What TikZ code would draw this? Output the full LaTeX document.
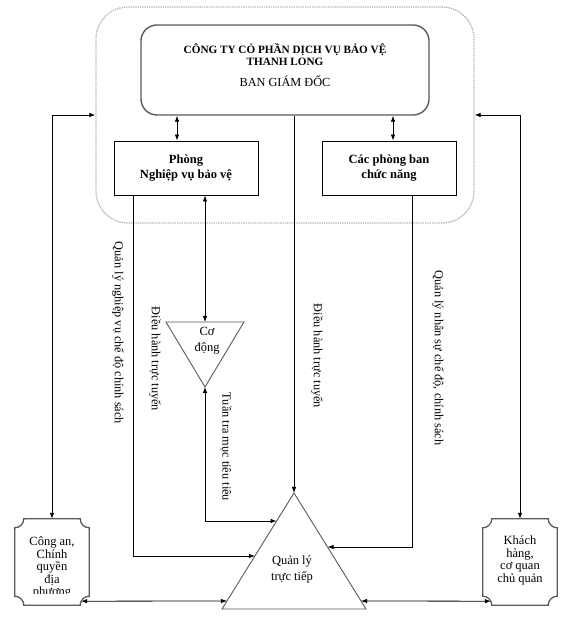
\documentclass[tikz,border=0pt]{standalone}
\usepackage{fontspec}
\setmainfont{Liberation Serif}
\usetikzlibrary{arrows.meta,calc}
\definecolor{bord}{HTML}{5A5A5A}
\definecolor{framec}{HTML}{B4B4B4}
\newcommand\plaqueof[1]{%
  \draw[plq] ($(#1.north west)+(9,0)$) -- ($(#1.north east)+(-9,0)$)
    arc[start angle=180,end angle=270,radius=9]
    -- ($(#1.south east)+(0,9)$) arc[start angle=90,end angle=180,radius=9]
    -- ($(#1.south west)+(9,0)$) arc[start angle=0,end angle=90,radius=9]
    -- ($(#1.north west)+(0,-9)$) arc[start angle=-90,end angle=0,radius=9]
    -- cycle;}
\newcommand\titlefont{\fontsize{11.2bp}{14bp}\selectfont\bfseries}
\begin{document}
\begin{tikzpicture}[x=1bp,y=1bp,
  >={Latex[length=6bp,width=4.5bp]},
  conn/.style={line width=0.8bp},
  grpframe/.style={draw=framec, densely dotted, line width=1.3bp, rounded corners=32bp, inner sep=0pt},
  mainbox/.style={draw=bord, line width=1.4bp, rounded corners=16bp, inner sep=0pt},
  rectbox/.style={draw=black, line width=0.9bp, inner sep=0pt, align=center, font=\fontsize{12.5bp}{15bp}\selectfont\bfseries},
  tri/.style={draw=bord, line width=0.9bp},
  plq/.style={draw=bord, line width=1.3bp},
  plqbox/.style={minimum width=74bp, minimum height=86bp, inner sep=0pt},
  plqtxt/.style={inner sep=0pt, align=center, anchor=north, font=\fontsize{12.5bp}{12.5bp}\selectfont},
  txt/.style={inner sep=0pt, align=center, font=\fontsize{12.5bp}{16bp}\selectfont},
  lbl/.style={inner sep=0pt, rotate=-90, font=\fontsize{12.3bp}{14bp}\selectfont},
]
\fill[white] (0,0) rectangle (563,620);
\useasboundingbox (0,0) rectangle (563,620);

% group frame and boxes
\node[grpframe, minimum width=378bp, minimum height=216bp] (grp) at (285,505) {};
\node[mainbox, minimum width=288bp, minimum height=90bp] (bgd) at (285,550) {};
\node[inner sep=0pt, align=center] (bgdt) at (285,555)
  {{\titlefont CÔNG TY CỎ PHẦN DỊCH VỤ BẢO VỆ}\\{\titlefont THANH LONG}\\[9bp]{\fontsize{12.3bp}{14bp}\selectfont BAN GIÁM ĐỐC}};
\node[rectbox, minimum width=144bp, minimum height=54bp] (pnv) at (186,452) {Phòng\\Nghiệp vụ bảo vệ};
\node[rectbox, minimum width=134bp, minimum height=54bp] (cpb) at (389,452) {Các phòng ban\\chức năng};

% Co dong triangle
\coordinate (cdtl) at (166,298);
\coordinate (cdtr) at (244,298);
\coordinate (cdap) at (205,233);
\draw[tri] (cdtl) -- (cdtr) -- (cdap) -- cycle;
\node[txt] (cdt) at (207,279) {Cơ\\động};

% Quan ly triangle
\coordinate (qlap) at (294,127);
\coordinate (qlbl) at (222,11);
\coordinate (qlbr) at (366,11);
\draw[tri] (qlap) -- (qlbl) -- (qlbr) -- cycle;
\node[txt] (qlt) at (292,51) {Quản lý\\trực tiếp};

% plaques
\node[plqbox] (ca) at (52,58) {};
\node[plqbox] (kh) at (520,58) {};
\plaqueof{ca}
\plaqueof{kh}
\begin{scope}
  \clip ($(ca.south west)+(0,12)$) rectangle (ca.north east);
  \node[plqtxt] (cat) at ($(ca.north)+(0,-18)$) {Công an,\\Chính\\quyền\\địa\\phương};
\end{scope}
\node[plqtxt] (kht) at ($(kh.north)+(0,-17)$) {Khách\\hàng,\\cơ quan\\chủ quản};

% rotated labels
\node[lbl] (l1) at (118,287) {Quản lý nghiệp vụ chế độ chính sách};
\node[lbl] (l2) at (155,261) {Điều hành trực tuyến};
\node[lbl] (l3) at (226,173) {Tuần tra mục tiêu tiêu};
\node[lbl] (l4) at (317,264) {Điều hành trực tuyến};
\node[lbl] (l5) at (438,262) {Quản lý nhân sự chế độ, chính sách};

% helper coordinates
\coordinate (h177) at (177,0);
\coordinate (h393) at (393,0);
\coordinate (h133) at (133,0);
\coordinate (h412) at (412,0);
\coordinate (qlL1) at ($(qlap)!0.2414!(qlbl)$);
\coordinate (qlL2) at ($(qlap)!0.5431!(qlbl)$);
\coordinate (qlR1) at ($(qlap)!0.4655!(qlbr)$);
\coordinate (qlL3) at ($(qlap)!0.931!(qlbl)$);
\coordinate (qlR3) at ($(qlap)!0.931!(qlbr)$);
\coordinate (caC) at ($(ca.south east)+(-8.06,4)$);
\coordinate (khC) at ($(kh.south west)+(8.06,4)$);

% connectors
\draw[conn,<->] (bgd.south -| h177) -- (pnv.north -| h177);
\draw[conn,<->] (bgd.south -| h393) -- (cpb.north -| h393);
\draw[conn,<->] (pnv.south -| cdap) -- (cdap |- cdtl);
\draw[conn,<->] (cdap) |- (qlL1);
\draw[conn,->] (pnv.south -| h133) |- (qlL2);
\draw[conn,->] (bgd.south -| qlap) -- (qlap);
\draw[conn,->] (cpb.south -| h412) |- (qlR1);
\draw[conn,<->] (grp.west) -| (ca.north);
\draw[conn,<->] (grp.east) -| (kh.north);
\draw[conn,<->] (caC) -- (qlL3);
\draw[conn,<->] (qlR3) -- (khC);
\end{tikzpicture}
\end{document}
